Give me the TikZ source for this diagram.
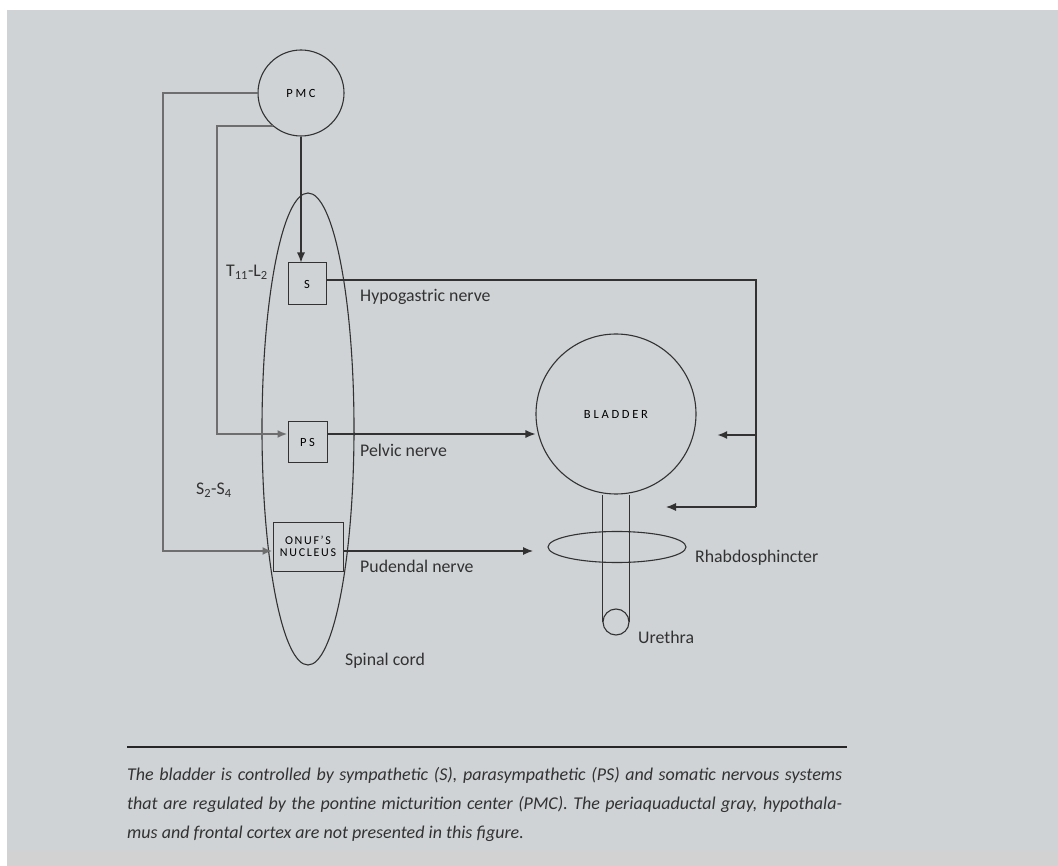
\documentclass[tikz,border=0pt]{standalone}
\usepackage{fontspec}
\setmainfont{Carlito}
\usetikzlibrary{arrows.meta,shapes.geometric}
\definecolor{bg}{RGB}{207,211,214}
\definecolor{bgb}{RGB}{210,210,211}
\definecolor{ink}{RGB}{50,50,50}
\definecolor{wire}{RGB}{110,110,110}
\begin{document}
\begin{tikzpicture}[x=1pt,y=-1pt,
  line/.style={draw=ink,line width=1.1pt},
  wireline/.style={draw=wire,line width=2.2pt},
  arr/.style={-{Latex[length=10pt,width=8pt]}},
  capsfont/.style={font=\fontsize{12.5}{13}\selectfont\addfontfeature{LetterSpace=22}},
  boxnode/.style={draw=ink,line width=1pt,inner sep=0pt,text=black,capsfont},
  shapeline/.style={draw=ink,line width=1.1pt,inner sep=0pt},
  lbl/.style={anchor=west,inner sep=0pt,text=ink,font=\fontsize{17.8}{18}\selectfont},
  captext/.style={anchor=base west,inner sep=0pt,text=ink,font=\fontsize{18}{19}\selectfont\itshape},
]
\useasboundingbox (0,0) rectangle (1058,866);
\fill[white] (0,0) rectangle (1058,866);
\fill[bg] (7,10) rectangle (1058,866);
\fill[bgb] (7,851) rectangle (1058,866);

% main nodes
\node[circle,shapeline,minimum size=86pt,text=black,capsfont] (pmc) at (301,93) {PMC};
\node[ellipse,shapeline,minimum width=92pt,minimum height=472pt] (cord) at (308,429) {};
\node[boxnode,minimum width=38pt,minimum height=42pt] (s) at (307,284) {S};
\node[boxnode,minimum width=39pt,minimum height=41pt] (ps) at (307.5,442.5) {PS};
\node[boxnode,minimum width=70pt,minimum height=49pt,align=center,fill=bg,
      font=\fontsize{12}{13}\selectfont\addfontfeature{LetterSpace=14}] (onuf) at (308,546.5) {ONUF'S\\[-1pt]NUCLEUS};
\node[circle,shapeline,minimum size=160pt,text=black,capsfont] (bladder) at (616,414) {BLADDER};
\node[circle,shapeline,minimum size=26pt] (ure) at (616,622) {};
\node[ellipse,shapeline,minimum width=138pt,minimum height=31pt] (sph) at (617,547) {};

% urethra tube
\draw[line] (ure.west) -- (ure.west |- bladder.south);
\draw[line] (ure.east) -- (ure.east |- bladder.south);

% helper coordinates
\coordinate (o1) at (163,93);
\coordinate (o2) at (163,551);
\coordinate (i1) at (217,126);
\coordinate (i2) at (217,434);
\coordinate (hyp) at (0,280);
\coordinate (h1) at (756,280);
\coordinate (h2) at (756,507);
\coordinate (h3) at (666,507);
\coordinate (hb) at (756,435);
\coordinate (hbt) at (717,435);
\coordinate (pel) at (0,434);
\coordinate (pudt) at (533,551);

% connectors from PMC
\draw[line,arr] (pmc.south) -- (pmc.south |- s.north);
\draw[wireline,arr] (pmc.west) -- (o1) -- (o2) -- (onuf.west |- o2);
\draw[wireline,arr] (pmc.230) -- (pmc.230 -| i1) -- (i2) -- (ps.west |- i2);

% hypogastric
\draw[line] (s.east |- hyp) -- (h1) -- (h2);
\draw[line,arr] (h2) -- (h3);
\draw[line,line width=2.4pt,arr] (hb) -- (hbt);

% pelvic
\draw[line,arr] (ps.east |- pel) -- (pel -| bladder.west);
\fill[ink] (pel -| cord.east) circle (1.6pt);

% pudendal
\draw[line,arr] (onuf.east |- o2) -- (pudt);

% labels
\node[lbl] (t11) at (226,272) {T\textsubscript{11}-L\textsubscript{2}};
\node[lbl] (s24) at (196,490) {S\textsubscript{2}-S\textsubscript{4}};
\node[lbl] (lhyp) at (360,297) {Hypogastric nerve};
\node[lbl] (lpel) at (360,450) {Pelvic nerve};
\node[lbl] (lpud) at (360,566) {Pudendal nerve};
\node[lbl] (lcord) at (345,661) {Spinal cord};
\node[lbl] (lrh) at (695,558) {Rhabdosphincter};
\node[lbl] (lure) at (638,637) {Urethra};

% caption
\draw[line width=2.6pt,black!85] (127,747) -- (847,747);
\node[captext] (c1) at (127,780) {\makebox[715pt][s]{The bladder is controlled by sympathetic (S), parasympathetic (PS) and somatic nervous systems}};
\node[captext] (c2) at (127,809) {\makebox[715pt][s]{that are regulated by the pontine micturition center (PMC). The periaquaductal gray, hypothala-}};
\node[captext] (c3) at (127,838) {mus and frontal cortex are not presented in this figure.};
\end{tikzpicture}
\end{document}
